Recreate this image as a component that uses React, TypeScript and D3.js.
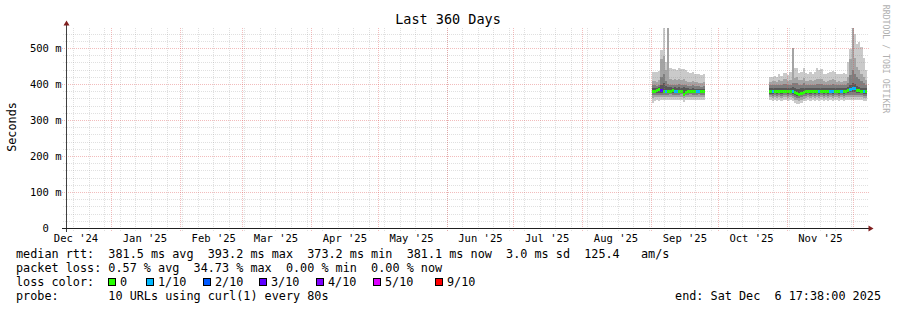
import React from "react";
import * as d3 from "d3";

// ---------- data ----------
const TITLE = "Last 360 Days";
const START = "2024-12-11T17:38:00Z";
const END = "2025-12-06T17:38:00Z";
const Y_MAX = 555.6; // ms
const yMajorTicks = [0, 100, 200, 300, 400, 500];
const yTickLabels = ["0  ", "100 m", "200 m", "300 m", "400 m", "500 m"];
const Y_LABEL = "Seconds";

// loss colour legend
const lossLevels = [0, 1, 2, 3, 4, 5, 9];
const lossLabels = ["0", "1/10", "2/10", "3/10", "4/10", "5/10", "9/10"];
const lossColors = ["#26ff00", "#00b8ff", "#0059ff", "#5e00ff", "#7e00ff", "#dd00ff", "#ff0000"];
const smokeColors = ["#cacaca", "#a4a4a4", "#7e7e7e", "#585858"];

// segment 1: daily bins from 2025-09-01 (ms)
const s1Start = "2025-09-01";
const s1Min = [350,354,356,355,356,357,356,357,358,357,356,357,356,357,352,356,357,358,357,356,357,358,357,356];
const s1P20 = [362,364,365,364,365,366,365,366,366,365,365,366,365,366,362,365,366,366,366,365,366,366,366,365];
const s1P30 = [370,371,372,371,372,372,372,372,373,372,372,372,372,373,368,372,372,373,372,372,372,373,372,372];
const s1P40 = [376,376,377,377,377,376,377,377,378,377,377,376,377,377,371,376,377,377,377,377,376,377,377,376];
const s1Median = [383,382,384,387,384,382,383,382,383,384,383,382,382,381,374,380,383,382,383,382,381,382,383,382];
const s1P70 = [390,390,389,392,400,405,396,392,392,391,392,391,393,391,392,390,389,388,390,388,388,387,387,388];
const s1P80 = [398,398,397,400,420,430,410,402,400,399,400,399,402,400,400,398,397,396,398,396,395,395,394,395];
const s1P90 = [410,410,408,412,470,480,440,560,414,412,414,412,416,412,414,410,408,408,410,406,406,404,404,406];
const s1Max = [435,436,434,437,496,556,462,560,446,442,444,440,446,442,444,440,434,432,434,430,428,428,426,428];
const s1Loss = [0,0,0,0,3,0,1,0,0,0,1,1,0,0,0,0,0,0,0,0,1,1,0,0];

// segment 2: daily bins from 2025-10-24 (ms)
const s2Start = "2025-10-24";
const s2Min = [356,355,356,355,356,355,356,356,355,356,354,349,347,346,349,353,355,356,355,356,355,356,355,356,355,356,355,356,355,356,356,355,356,355,356,356,356,357,356,356,356,356,355,355];
const s2P20 = [364,363,364,363,364,363,364,364,363,364,363,358,356,355,357,361,363,364,363,364,363,364,363,364,363,364,363,364,363,364,364,363,364,363,364,364,365,365,364,364,364,364,363,363];
const s2P30 = [370,369,370,369,370,369,370,370,369,370,369,365,363,362,364,367,369,370,369,370,369,370,369,370,369,370,369,370,369,370,370,369,370,369,370,370,371,372,371,370,370,370,369,369];
const s2P40 = [375,375,376,375,376,375,376,376,375,376,375,371,369,368,370,373,375,376,375,376,375,376,375,376,375,376,375,376,375,376,376,375,376,375,376,377,378,380,379,377,376,376,375,375];
const s2Median = [382,381,382,381,382,381,382,382,381,382,381,378,376,375,377,379,381,382,381,382,381,382,381,382,381,382,381,382,381,382,382,381,382,381,382,384,388,391,390,386,384,383,382,381];
const s2P70 = [389,390,390,389,390,390,391,391,390,390,392,390,388,387,389,391,390,390,390,390,390,391,390,391,390,389,390,390,391,390,389,390,389,390,390,393,400,404,402,396,393,391,390,389];
const s2P80 = [398,399,399,398,400,399,401,401,399,400,404,404,404,400,400,403,399,399,400,399,400,402,401,401,399,398,399,400,401,400,398,399,398,399,399,404,426,440,430,420,415,410,404,400];
const s2P90 = [408,410,410,408,412,410,414,414,410,412,501,418,420,412,412,418,410,410,412,410,412,416,414,414,410,408,410,412,414,412,408,410,408,410,410,420,470,560,475,450,440,430,420,412];
const s2Max = [422,422,424,422,428,424,432,432,426,436,501,446,446,432,434,446,432,430,434,430,436,446,440,444,430,428,432,434,438,436,428,430,428,432,430,462,500,560,540,512,518,505,473,440];
const s2Loss = [0,1,0,0,0,0,0,0,0,0,1,0,0,0,0,0,0,0,0,0,0,0,1,0,0,0,0,1,1,0,0,0,1,0,0,0,1,1,1,0,0,0,1,0];

const legendLine1 = "median rtt:  381.5 ms avg  393.2 ms max  373.2 ms min  381.1 ms now  3.0 ms sd  125.4   am/s";
const legendLine2 = "packet loss: 0.57 % avg  34.73 % max  0.00 % min  0.00 % now";
const legendLine3 = "loss color:";
const legendLine4 = "probe:       10 URLs using curl(1) every 80s";
const endText = "end: Sat Dec  6 17:38:00 2025";
const watermark = "RRDTOOL / TOBI OETIKER";

const segments = [
  { start: s1Start, lo: [s1Min, s1P20, s1P30, s1P40], hi: [s1Max, s1P90, s1P80, s1P70], median: s1Median, loss: s1Loss },
  { start: s2Start, lo: [s2Min, s2P20, s2P30, s2P40], hi: [s2Max, s2P90, s2P80, s2P70], median: s2Median, loss: s2Loss },
];

const lossBoxX = [108, 146, 203, 259, 316, 373, 435];

// ---------- chart ----------
const MONO = "'DejaVu Sans Mono', monospace";

function lossColor(l: number) {
  let c = lossColors[0];
  lossLevels.forEach((lv, i) => {
    if (l >= lv) c = lossColors[i];
  });
  return c;
}

export default function App() {
  const W = 897, H = 310;
  const left = 66.5, right = 866.5, top = 28.5, bottom = 228.5;
  const parse = d3.utcParse("%Y-%m-%d");
  const t0 = new Date(START), t1 = new Date(END);
  const x = d3.scaleUtc().domain([t0, t1]).range([left, right]);
  const y = d3.scaleLinear().domain([0, Y_MAX]).range([bottom, top]);
  const snap = (v: number) => Math.floor(v) + 0.5;

  const months = d3.utcMonths(t0, t1);
  const weeks = d3.utcSundays(t0, t1);
  const labelMonths = d3.utcMonths(d3.utcMonth.floor(t0), t1)
    .map((m) => d3.utcDay.offset(m, 15))
    .filter((d) => d >= t0 && d <= t1);
  const fmt = d3.utcFormat("%b '%y");

  const yMinor = d3.range(0, Y_MAX, 20).filter((v) => v % 100 !== 0);

  const smoke: any[] = [];
  const med: any[] = [];
  segments.forEach((seg, si) => {
    const sd = parse(seg.start)!;
    seg.median.forEach((m, i) => {
      const d0 = d3.utcDay.offset(sd, i);
      const d1 = d3.utcDay.offset(sd, i + 1);
      const X0 = Math.round(x(d0));
      const X1 = Math.round(Math.min(x(d1), right));
      if (X1 <= X0) return;
      seg.lo.forEach((loArr, L) => {
        const yh = Math.round(Math.max(y(seg.hi[L][i]), top - 0.5));
        const yl = Math.round(y(loArr[i]));
        smoke.push(
          <rect key={`s${si}-${i}-${L}`} x={X0} y={yh} width={X1 - X0} height={Math.max(0, yl - yh)} fill={smokeColors[L]} />
        );
      });
      const ym = Math.round(y(m));
      med.push(
        <rect key={`m${si}-${i}`} x={X0} y={ym - 1} width={X1 - X0} height={3} fill={lossColor(seg.loss[i])} />
      );
    });
  });

  const gridMinor = "rgba(143,143,143,0.28)";
  const gridMajor = "rgba(222,79,79,0.38)";

  return (
    <svg width={W} height={H} style={{ position: "absolute", left: 0, top: 0, background: "#fff" }}
      fontFamily={MONO}>
      <rect x={0} y={0} width={W} height={H} fill="#ffffff" />
      <text x={448} y={23.5} fontSize={13.5} textAnchor="middle" fill="#000">{TITLE}</text>

      {/* data */}
      <g shapeRendering="crispEdges">
        {smoke}
        {med}
      </g>

      {/* grid */}
      <g shapeRendering="crispEdges" strokeWidth={1}>
        {yMinor.map((v) => (
          <line key={`ym${v}`} x1={63} x2={right + 2} y1={snap(y(v))} y2={snap(y(v))} stroke={gridMinor} strokeDasharray="1 1" />
        ))}
        {weeks.map((d, i) => (
          <line key={`xw${i}`} x1={snap(x(d))} x2={snap(x(d))} y1={top - 1} y2={bottom + 2} stroke={gridMinor} strokeDasharray="1 1" />
        ))}
        {yMajorTicks.filter((v) => v > 0).map((v) => (
          <line key={`yM${v}`} x1={62} x2={right + 2} y1={snap(y(v))} y2={snap(y(v))} stroke={gridMajor} strokeDasharray="1 1" />
        ))}
        {months.map((d, i) => (
          <line key={`xM${i}`} x1={snap(x(d))} x2={snap(x(d))} y1={top - 1} y2={bottom + 3} stroke={gridMajor} strokeDasharray="1 1" />
        ))}
      </g>

      {/* axes */}
      <g shapeRendering="crispEdges">
        <line x1={left} x2={left} y1={bottom + 3} y2={top - 4} stroke="#404040" />
        <line x1={62} x2={right + 3} y1={bottom} y2={bottom} stroke="#1f1f1f" />
      </g>
      <path d={`M${left - 3},${top - 3} L${left + 3},${top - 3} L${left},${top - 8} Z`} fill="#801f1f" />
      <path d={`M${right + 2},${bottom - 3} L${right + 2},${bottom + 3} L${right + 7},${bottom} Z`} fill="#801f1f" />

      {/* y labels */}
      {yMajorTicks.map((v, i) => (
        <text key={`yl${v}`} x={61.5} y={y(v) + 3.8} fontSize={10.5} textAnchor="end" fill="#000"
          style={{ whiteSpace: "pre" }} xmlSpace="preserve">{yTickLabels[i]}</text>
      ))}
      {/* x labels */}
      {labelMonths.map((d, i) => (
        <text key={`xl${i}`} x={x(d)} y={241.5} fontSize={10.5} textAnchor="middle" fill="#000">{fmt(d)}</text>
      ))}

      <text transform="translate(15.5,127) rotate(-90)" fontSize={11.8} textAnchor="middle" fill="#000">{Y_LABEL}</text>
      <text transform="translate(883,59) rotate(90)" fontSize={8.2} textAnchor="middle" fill="#b0b0b0">{watermark}</text>

      {/* legend */}
      <g fontSize={11.8} fill="#000" style={{ whiteSpace: "pre" }}>
        <text x={16} y={258} xmlSpace="preserve">{legendLine1}</text>
        <text x={16} y={272} xmlSpace="preserve">{legendLine2}</text>
        <text x={16} y={286} xmlSpace="preserve">{legendLine3}</text>
        {lossLabels.map((l, i) => (
          <g key={`lg${i}`}>
            <rect x={lossBoxX[i] + 0.5} y={278.5} width={7} height={7} fill={lossColors[i]} stroke="#000" strokeWidth={1} shapeRendering="crispEdges" />
            <text x={lossBoxX[i] + 12} y={286}>{l}</text>
          </g>
        ))}
        <text x={16} y={300} xmlSpace="preserve">{legendLine4}</text>
        <text x={881} y={300} textAnchor="end" xmlSpace="preserve">{endText}</text>
      </g>
    </svg>
  );
}
